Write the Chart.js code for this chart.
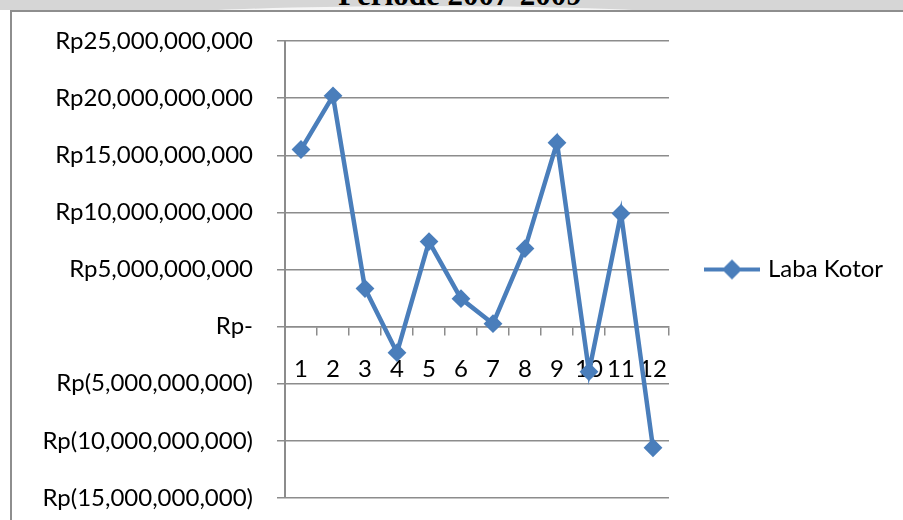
<!DOCTYPE html>
<html>
<head>
<meta charset="utf-8">
<script src="https://cdn.jsdelivr.net/npm/chart.js@4.4.0/dist/chart.umd.min.js"></script>
<style>
  body { margin: 0; width: 903px; height: 520px; overflow: hidden; background: #fff; position: relative; }
  #band { position: absolute; left: 0; top: 0; width: 903px; height: 10px; background: #d6d6d6; overflow: hidden; }
  #lens { position: absolute; left: 80px; top: 6px; width: 690px; height: 40px; border-radius: 50%; background: #f6f6f6; }
  #title { position: absolute; left: 0; top: -21px; width: 920px; text-align: center; font: bold 31px "Liberation Serif", serif; line-height: 31px; color: #000; }
  #box { position: absolute; left: 10px; top: 10px; width: 893px; height: 510px; border-left: 2px solid #8e8e8e; border-top: 2px solid #8e8e8e; background: #fff; }
  #wrap { position: absolute; left: 0; top: 0; width: 891px; height: 508px; }
</style>
</head>
<body>
<div id="band"><div id="lens"></div><div id="title">Periode 2007-2009</div></div>
<div id="box"><div id="wrap"><canvas id="chart"></canvas></div></div>
<script>
// Data
const categories = ['1', '2', '3', '4', '5', '6', '7', '8', '9', '10', '11', '12'];
const labaKotor = [15.5e9, 20.2e9, 3.33e9, -2.28e9, 7.44e9, 2.45e9, 0.26e9, 6.83e9, 16.1e9, -3.94e9, 9.9e9, -10.6e9];
const yTicks = { min: -15e9, max: 25e9, step: 5e9 };

const blue = '#4a7ebb';
const gridColor = '#8c8c8c';
const labelFont = { family: 'Lato, sans-serif', size: 24 };

// Format like Excel accounting: Rp25,000,000,000 / Rp- / Rp(5,000,000,000)
function rupiah(v) {
    if (v === 0) return 'Rp-';
    const s = Math.abs(v).toLocaleString('en-US');
    return v < 0 ? 'Rp(' + s + ')' : 'Rp' + s;
}

// Legend icon: line with a diamond in the middle
const icon = document.createElement('canvas');
icon.width = 56;
icon.height = 22;
const ic = icon.getContext('2d');
ic.strokeStyle = blue;
ic.lineWidth = 4;
ic.beginPath();
ic.moveTo(0, 11);
ic.lineTo(56, 11);
ic.stroke();
ic.fillStyle = blue;
ic.beginPath();
ic.moveTo(28, 1);
ic.lineTo(38, 11);
ic.lineTo(28, 21);
ic.lineTo(18, 11);
ic.closePath();
ic.fill();

new Chart(document.getElementById('chart'), {
    type: 'line',
    data: {
        labels: categories,
        datasets: [{
            label: 'Laba Kotor',
            data: labaKotor,
            borderColor: blue,
            backgroundColor: blue,
            borderWidth: 4.5,
            pointStyle: 'rectRot',
            pointRadius: 8,
            pointBorderWidth: 2,
            pointBackgroundColor: blue,
            pointBorderColor: blue,
            tension: 0,
            clip: false
        }]
    },
    options: {
        responsive: true,
        maintainAspectRatio: false,
        animation: false,
        layout: { padding: { left: 0, top: 29, bottom: 22, right: 15 } },
        plugins: {
            tooltip: { enabled: false },
            legend: {
                position: 'right',
                labels: {
                    usePointStyle: true,
                    pointStyle: icon,
                    pointStyleWidth: 48,
                    padding: 39,
                    color: '#000',
                    font: labelFont
                }
            }
        },
        scales: {
            x: {
                position: { y: 0 },
                offset: true,
                // the axis sits on the zero line, so it should not take layout space
                afterFit: scale => {
                    scale.height = 0;
                    scale.paddingLeft = 0;
                    scale.paddingRight = 0;
                },
                grid: { drawOnChartArea: false, tickLength: 8, color: gridColor, lineWidth: 1.5, offset: true },
                border: { color: gridColor, width: 1.5 },
                ticks: { color: '#000', font: labelFont, padding: 20, maxRotation: 0, autoSkip: false }
            },
            y: {
                min: yTicks.min,
                max: yTicks.max,
                // fixed width; tick padding must not push the plot down
                afterFit: scale => {
                    scale.width = 273;
                    scale.paddingTop = 0;
                    scale.paddingBottom = 0;
                },
                grid: { color: gridColor, lineWidth: 1.5, tickLength: 8 },
                border: { color: gridColor, width: 2 },
                ticks: {
                    stepSize: yTicks.step,
                    padding: 24,
                    color: '#000',
                    font: labelFont,
                    callback: v => rupiah(v)
                }
            }
        }
    }
});
</script>
</body>
</html>
